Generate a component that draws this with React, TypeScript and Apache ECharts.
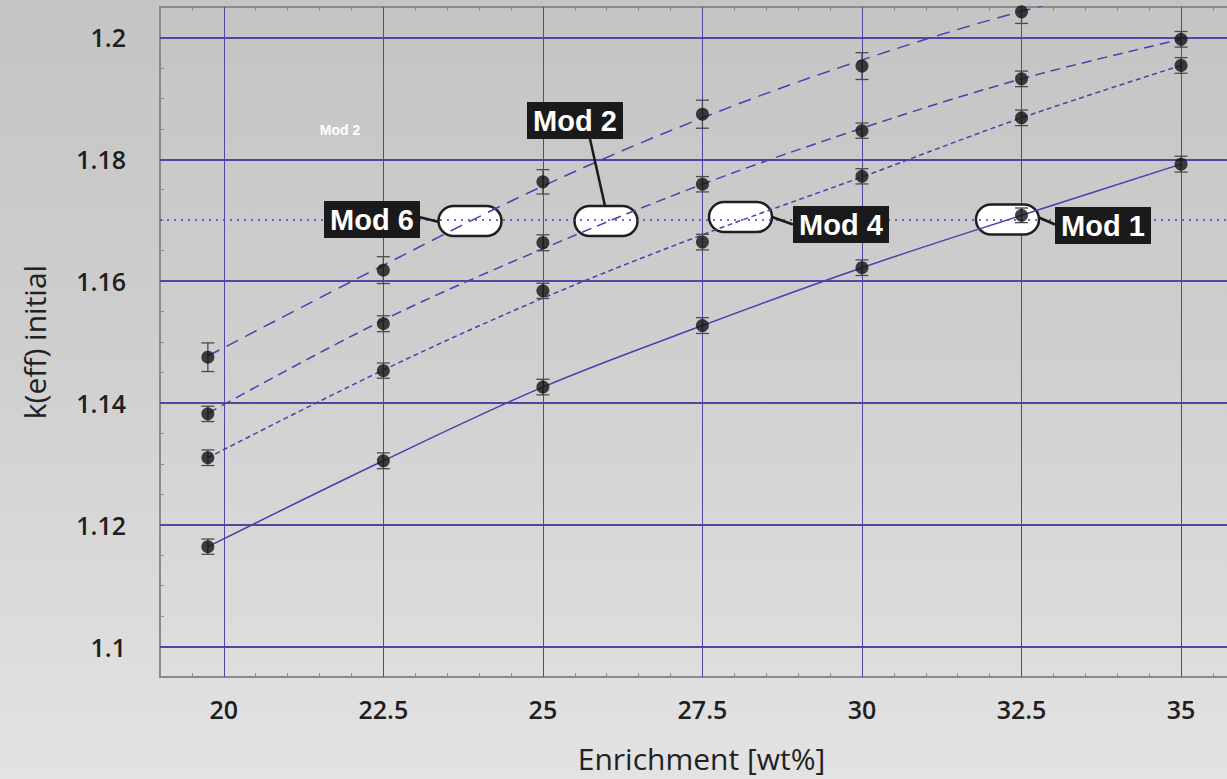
import React, { useEffect, useRef } from "react";
import * as echarts from "echarts";

const enrichment = [19.75, 22.5, 25, 27.5, 30, 32.5, 35];
const mod1 = [1.1164, 1.1305, 1.1426, 1.1527, 1.1622, 1.1708, 1.1792];
const mod4 = [1.131, 1.1453, 1.1584, 1.1664, 1.1772, 1.1868, 1.1954];
const mod2 = [1.1382, 1.153, 1.1663, 1.1759, 1.1847, 1.1932, 1.1997];
const mod6 = [1.1475, 1.1618, 1.1763, 1.1874, 1.1953, 1.2042];
const mod1Err = [0.00125, 0.0013, 0.00128, 0.0013, 0.00128, 0.0012, 0.0013];
const mod4Err = [0.00128, 0.00125, 0.00125, 0.00128, 0.00125, 0.00128, 0.00128];
const mod2Err = [0.00126, 0.0013, 0.0013, 0.00126, 0.00125, 0.00128, 0.00128];
const mod6Err = [0.00235, 0.0022, 0.002, 0.0023, 0.0022, 0.0019];
const fitMod1 = [1.1164, 1.1305, 1.1426, 1.1527, 1.1622, 1.1708, 1.1792];
const fitMod4 = [1.131, 1.1454, 1.1572, 1.1676, 1.1771, 1.1868, 1.1954];
const fitMod2 = [1.1383, 1.1536, 1.1653, 1.1759, 1.1851, 1.1932, 1.1997];
const fitMod6 = [1.1477, 1.1626, 1.1756, 1.1868, 1.1963, 1.2043, 1.2105];
const xTickLabels = [20, 22.5, 25, 27.5, 30, 32.5, 35];
const yTickLabels = [1.1, 1.12, 1.14, 1.16, 1.18, 1.2];
const referenceK = 1.17;

const LINE = "#4b3fae";
const GRID = "#4f48a2";
const AX = "#8a8a8a";

const pairs = (xs: number[], ys: number[]) => ys.map((y, i) => [xs[i], y]);
const triples = (xs: number[], ys: number[], es: number[]) => ys.map((y, i) => [xs[i], y, es[i]]);

export default function App() {
  const ref = useRef<HTMLDivElement>(null);
  useEffect(() => {
    if (!ref.current) return;
    const chart = echarts.init(ref.current, null, { renderer: "svg" });
    const labelFont = { fontFamily: "Open Sans", fontWeight: 600, fontSize: 25, color: "#1e1e1e" };
    const fitSeries = (name: string, data: number[], type: any) => ({
      name,
      type: "line",
      data: pairs(enrichment, data),
      smooth: 0.35,
      symbol: "none",
      z: 3,
      clip: true,
      lineStyle: { color: LINE, width: 1.5, type },
    });
    const errSeries = (name: string, ys: number[], es: number[]) => ({
      name,
      type: "custom",
      z: 3,
      clip: true,
      data: triples(enrichment, ys, es),
      encode: { x: 0, y: 1 },
      renderItem: (params: any, api: any) => {
        const x = api.value(0);
        const y = api.value(1);
        const e = api.value(2);
        const t = api.coord([x, y + e]);
        const b = api.coord([x, y - e]);
        const hw = 6.5;
        const st = { stroke: "#4a4a4a", lineWidth: 1.3 };
        return {
          type: "group",
          children: [
            { type: "line", shape: { x1: t[0], y1: t[1], x2: b[0], y2: b[1] }, style: st },
            { type: "line", shape: { x1: t[0] - hw, y1: t[1], x2: t[0] + hw, y2: t[1] }, style: st },
            { type: "line", shape: { x1: b[0] - hw, y1: b[1], x2: b[0] + hw, y2: b[1] }, style: st },
          ],
        };
      },
    });
    const pointSeries = (name: string, ys: number[]) => ({
      name,
      type: "scatter",
      z: 4,
      data: pairs(enrichment, ys),
      symbol: "circle",
      symbolSize: 13,
      itemStyle: { color: "#141414" },
    });
    const near = (v: number, arr: number[]) => arr.find((a) => Math.abs(a - v) < 1e-6);

    const pill = (x: number, y: number) => ({
      type: "rect",
      z: 2,
      shape: { x, y, width: 63, height: 30, r: 15 },
      style: { fill: "#ffffff", stroke: "#1e1e1e", lineWidth: 2.5 },
    });
    const box = (x: number, y: number, text: string) => ({
      type: "group",
      z: 10,
      children: [
        { type: "rect", z: 10, shape: { x, y, width: 96, height: 37 }, style: { fill: "#1a1a1a" } },
        {
          type: "text",
          z: 11,
          x: x + 48,
          y: y + 19,
          style: {
            text,
            fill: "#ffffff",
            font: "bold 29px 'Liberation Sans', Arial, sans-serif",
            align: "center",
            verticalAlign: "middle",
          },
        },
      ],
    });
    const conn = (x1: number, y1: number, x2: number, y2: number) => ({
      type: "line",
      z: 10,
      shape: { x1, y1, x2, y2 },
      style: { stroke: "#1a1a1a", lineWidth: 2.5 },
    });

    chart.setOption({
      animation: false,
      backgroundColor: "transparent",
      grid: { left: 160, top: 7, right: 0, bottom: 102, containLabel: false },
      xAxis: [
        {
          type: "value",
          min: 19,
          max: 35.72,
          interval: 0.5,
          position: "bottom",
          axisLine: { show: true, lineStyle: { color: AX, width: 2 } },
          axisTick: { show: true, inside: true, length: 4, lineStyle: { color: AX, width: 1 } },
          splitLine: { show: false },
          axisLabel: {
            ...labelFont,
            margin: 19,
            showMinLabel: false,
            showMaxLabel: false,
            formatter: (v: number) => {
              const m = near(v, xTickLabels);
              return m === undefined ? "" : String(m);
            },
          },
          name: "Enrichment [wt%]",
          nameLocation: "middle",
          nameGap: 66,
          nameTextStyle: { fontFamily: "Open Sans", fontSize: 30, color: "#222", padding: [0, 0, 0, 16] },
        },
        {
          type: "value",
          min: 19,
          max: 35.72,
          interval: 0.5,
          position: "top",
          axisLine: { show: true, lineStyle: { color: AX, width: 2 } },
          axisTick: { show: true, inside: true, length: 4, lineStyle: { color: AX, width: 1 } },
          splitLine: { show: false },
          axisLabel: { show: false },
        },
      ],
      yAxis: {
        type: "value",
        min: 1.095,
        max: 1.205,
        interval: 0.005,
        axisLine: { show: true, lineStyle: { color: AX, width: 2 } },
        axisTick: { show: true, inside: true, length: 4, lineStyle: { color: AX, width: 1 } },
        splitLine: { show: false },
        axisLabel: {
          ...labelFont,
          margin: 34,
          showMinLabel: false,
          showMaxLabel: false,
          formatter: (v: number) => {
            const m = near(v, yTickLabels);
            return m === undefined ? "" : String(m);
          },
        },
        name: "k(eff) initial",
        nameLocation: "middle",
        nameRotate: 90,
        nameGap: 111,
        nameTextStyle: { fontFamily: "Open Sans", fontSize: 30, color: "#222" },
      },
      series: [
        {
          name: "grid",
          type: "line",
          data: [],
          z: 1,
          markLine: {
            z: 1,
            silent: true,
            symbol: "none",
            animation: false,
            label: { show: false },
            data: [
              ...xTickLabels.map((v) => ({ xAxis: v, lineStyle: { color: GRID, width: 1, type: "solid" } })),
              ...yTickLabels.map((v) => ({ yAxis: v, lineStyle: { color: GRID, width: 2, type: "solid" } })),
            ],
          },
        },
        {
          name: "ref",
          type: "line",
          data: [],
          z: 3,
          markLine: {
            z: 3,
            silent: true,
            symbol: "none",
            animation: false,
            label: { show: false },
            data: [{ yAxis: referenceK, lineStyle: { color: LINE, width: 1.5, type: [2, 5] } }],
          },
        },
        fitSeries("Mod 1 fit", fitMod1, "solid"),
        fitSeries("Mod 4 fit", fitMod4, [5, 3.5]),
        fitSeries("Mod 2 fit", fitMod2, [10, 6]),
        fitSeries("Mod 6 fit", fitMod6, [13, 8]),
        errSeries("Mod 1 err", mod1, mod1Err),
        errSeries("Mod 4 err", mod4, mod4Err),
        errSeries("Mod 2 err", mod2, mod2Err),
        errSeries("Mod 6 err", mod6, mod6Err),
        pointSeries("Mod 1", mod1),
        pointSeries("Mod 4", mod4),
        pointSeries("Mod 2", mod2),
        pointSeries("Mod 6", mod6),
      ],
      graphic: [
        pill(438.5, 206),
        pill(574.5, 206),
        pill(709, 202),
        pill(976, 204.5),
        conn(419, 217, 439, 222),
        conn(590, 139, 605, 206),
        conn(772, 217, 793, 224.5),
        conn(1039, 217.5, 1055, 224.5),
        box(324, 201, "Mod 6"),
        box(527, 102, "Mod 2"),
        box(793, 206, "Mod 4"),
        box(1055, 207, "Mod 1"),
        {
          type: "text",
          z: 10,
          x: 340,
          y: 130,
          style: {
            text: "Mod 2",
            fill: "#ffffff",
            font: "bold 14px 'Liberation Sans', Arial, sans-serif",
            align: "center",
            verticalAlign: "middle",
          },
        },
      ],
    });
    return () => chart.dispose();
  }, []);
  return (
    <div
      style={{
        position: "fixed",
        left: 0,
        top: 0,
        width: 1227,
        height: 779,
        background: "linear-gradient(to bottom, #c4c4c4 0%, #cfcfcf 45%, #e3e3e3 100%)",
      }}
    >
      <div ref={ref} style={{ width: 1227, height: 779 }} />
    </div>
  );
}
